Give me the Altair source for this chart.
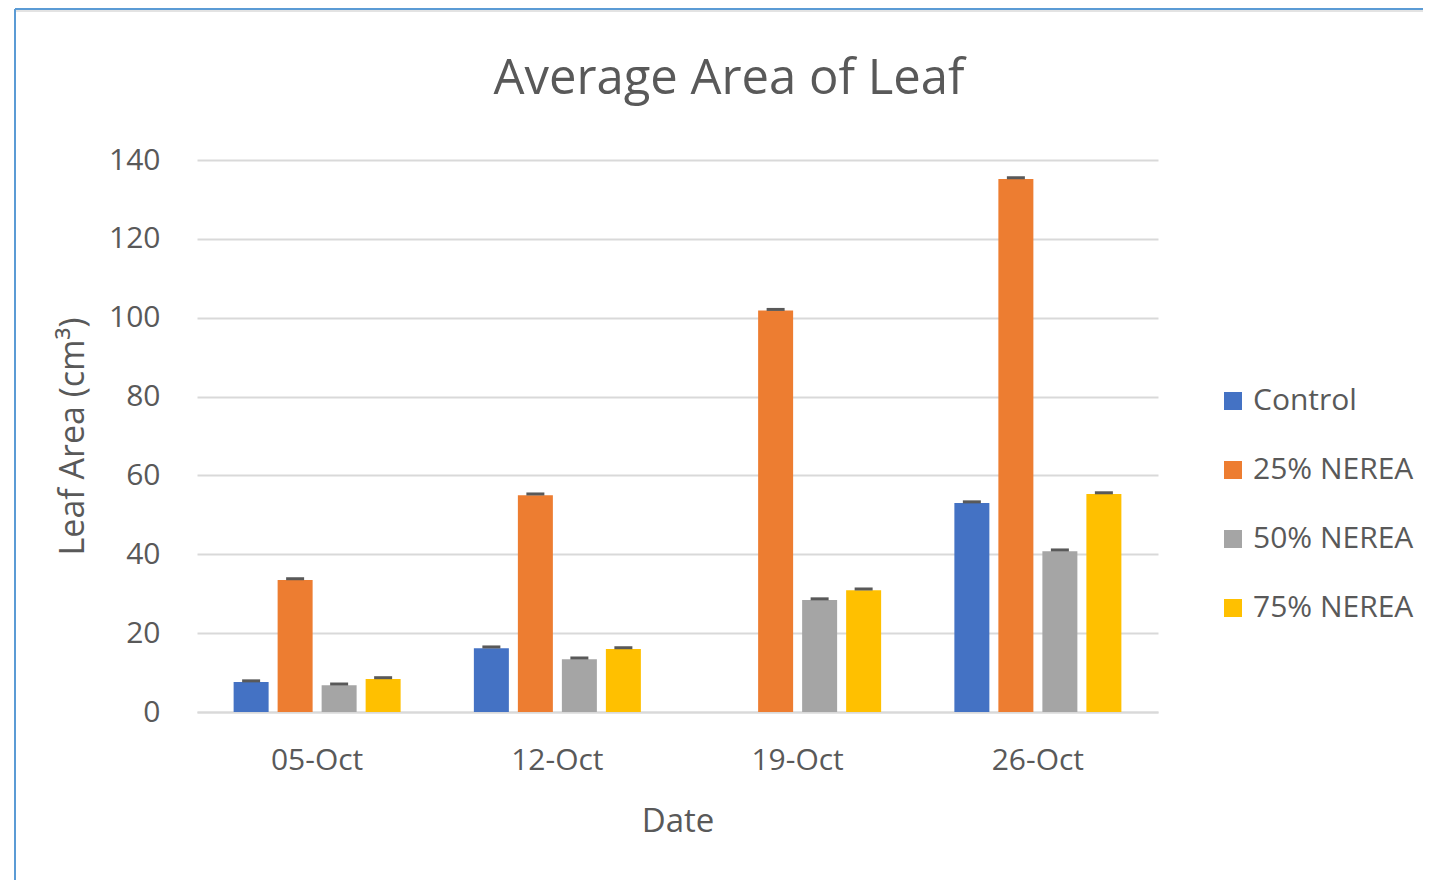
import altair as alt
import pandas as pd

dates = ["05-Oct", "12-Oct", "19-Oct", "26-Oct"]
series = ["Control", "25% NEREA", "50% NEREA", "75% NEREA"]
colors = ["#4472C4", "#ED7D31", "#A5A5A5", "#FFC000"]
control = [7.6, 16.2, None, 53.0]
nerea25 = [33.5, 55.0, 101.8, 135.2]
nerea50 = [6.8, 13.4, 28.4, 40.8]
nerea75 = [8.4, 16.0, 30.9, 55.3]
err = [0.3, 0.3, 0.3, 0.3]
title_text = ["Average Area of Leaf"]

rows = []
for s, vals in zip(series, [control, nerea25, nerea50, nerea75]):
    for d, v, e in zip(dates, vals, err):
        if v is not None:
            rows.append({"Date": d, "Series": s, "Value": v, "Err": v + e})
df = pd.DataFrame(rows)

FONT = "Open Sans"
TXT = "#595959"

x = alt.X("Date:N", sort=dates, title="Date",
          scale=alt.Scale(paddingInner=0.304, paddingOuter=0.152),
          axis=alt.Axis(labelAngle=0, labelFontSize=30, labelColor=TXT, labelFont=FONT,
                        titleFontSize=33, titleColor=TXT, titleFont=FONT, titleFontWeight="normal",
                        labelPadding=33, titlePadding=30, ticks=False, domain=True,
                        domainColor="#D9D9D9", domainWidth=2))
xo = alt.XOffset("Series:N", sort=series,
                 scale=alt.Scale(paddingInner=0.2, paddingOuter=0))
y = alt.Y("Value:Q", title="Leaf Area (cm³)",
          scale=alt.Scale(domain=[0, 140]),
          axis=alt.Axis(values=[0, 20, 40, 60, 80, 100, 120, 140], labelFontSize=30,
                        labelColor=TXT, labelFont=FONT, titleFontSize=34, titleColor=TXT,
                        titleFont=FONT, titleFontWeight="normal", labelPadding=37,
                        titlePadding=18, ticks=False, domain=False, grid=True,
                        gridColor="#D9D9D9", gridWidth=2))
color = alt.Color("Series:N", sort=series,
                  scale=alt.Scale(domain=series, range=colors),
                  legend=alt.Legend(title=None, orient="none", legendX=1021, legendY=226,
                                    symbolType="square", symbolSize=324, symbolStrokeWidth=0,
                                    labelFontSize=30, labelColor=TXT, labelFont=FONT,
                                    labelLimit=400, rowPadding=39, labelOffset=5))

bars = alt.Chart(df).mark_bar(size=35).encode(x=x, xOffset=xo, y=y, color=color)
caps = alt.Chart(df).mark_tick(color="#595959", thickness=3, size=18, opacity=1).encode(
    x=alt.X("Date:N", sort=dates), xOffset=alt.XOffset("Series:N", sort=series),
    y=alt.Y("Err:Q"))

title = alt.Chart(pd.DataFrame({"t": title_text})).mark_text(
    font=FONT, fontSize=49, color=TXT, align="center", baseline="alphabetic").encode(
    text="t:N", x=alt.value(532), y=alt.value(-66))

border_left = alt.Chart(df).mark_rule(color="#5B9BD5", strokeWidth=2).encode(
    x=alt.value(-182), y=alt.value(-151), y2=alt.value(740))
border_top = alt.Chart(df).mark_rule(color="#5B9BD5", strokeWidth=2).encode(
    x=alt.value(-182), x2=alt.value(1240), y=alt.value(-151))
shadow_top = alt.Chart(df).mark_rule(color="#E3E3E3", strokeWidth=2).encode(
    x=alt.value(-181), x2=alt.value(1240), y=alt.value(-149))

chart = alt.layer(bars, caps, title, shadow_top, border_left, border_top).properties(
    width=961, height=552,
    autosize=alt.AutoSizeParams(type="none"),
    padding={"left": 189, "top": 152, "right": 265, "bottom": 168},
).configure(background="white").configure_view(strokeWidth=0, stroke="transparent")

chart.save("out.html", embed_options={"renderer": "svg", "actions": False})
